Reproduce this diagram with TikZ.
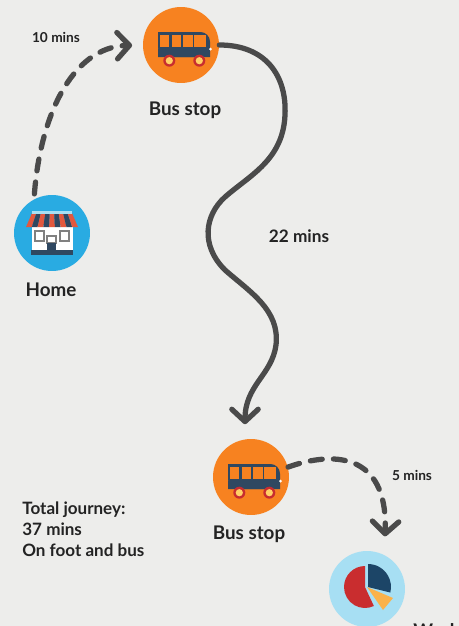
\documentclass[tikz,border=0pt]{standalone}
\usepackage{fontspec}
\setmainfont{Lato}
\usepackage{tikz}
\usetikzlibrary{arrows.meta,positioning}
\definecolor{pagebg}{RGB}{237,237,235}
\definecolor{roadgrey}{RGB}{74,74,74}
\definecolor{inkblack}{RGB}{35,35,35}
\definecolor{busorange}{RGB}{247,130,32}
\definecolor{busblue}{RGB}{47,72,97}
\definecolor{wheelred}{RGB}{200,45,47}
\definecolor{wheelyellow}{RGB}{255,209,102}
\definecolor{homeblue}{RGB}{41,171,226}
\definecolor{awnred}{RGB}{226,88,62}
\definecolor{workblue}{RGB}{167,223,243}
\definecolor{piered}{RGB}{201,45,47}
\definecolor{pieblue}{RGB}{28,69,103}
\definecolor{pieyellow}{RGB}{250,178,74}
\tikzset{
  stop/.style    ={circle, minimum size=1.52cm, inner sep=0pt},
  place/.style   ={font=\bfseries\fontsize{10.7}{12}\selectfont, text=inkblack, inner sep=0pt},
  mins/.style    ={font=\bfseries\fontsize{7.8}{9}\selectfont, text=inkblack, inner sep=0pt},
  road/.style    ={draw=roadgrey, line width=3pt, line cap=round, -{Straight Barb[length=7pt, width=15pt, round]}},
  walk/.style    ={road, dash pattern=on 6.8pt off 6.4pt},
  busicon/.pic   ={
    \fill[busblue, rounded corners=5.5pt] (-23,12) -- (-23,-13) -- (29,-13) -- (29,12) -- cycle;
    \fill[busblue] (-23,12) rectangle (29,4) (-23,-13) rectangle (10,0);
    \foreach \xa/\xb in {-21/-11.7,-9.3/0,2.3/11.7,13.3/25}
      \fill[busorange] (\xa,-10) rectangle (\xb,2.3);
    \fill[white] (29.5,4) circle[radius=1.5];
    \foreach \xa in {-11.7,18.3}{
      \fill[wheelred] (\xa,15.7) circle[radius=6];
      \fill[wheelyellow] (\xa,15.7) circle[radius=3.6];
    }
  },
  shopicon/.pic  ={
    \fill[white] (-20,-8) rectangle (21,18);
    \foreach \i/\c in {0/awnred,1/busblue,2/awnred,3/busblue,4/awnred,5/busblue,6/awnred,7/busblue,8/awnred}
      \fill[\c] ({-20+\i*40/9},-20) -- ({-20+(\i+1)*40/9},-20) -- ({-26+(\i+1)*52/9},-6) -- ({-26+\i*52/9},-6) -- cycle;
    \fill[workblue] (-20,-22) rectangle (20,-19);
    \draw[gray, line width=.7pt, fill=white] (-17,-2) rectangle (-8,8) (8,-2) rectangle (17,8);
    \draw[gray, line width=.7pt, fill=white] (-5,3) rectangle (4,10);
    \fill[busblue] (-5,10) rectangle (4,18);
    \fill[busblue] (-21,17) rectangle (21,22);
  },
  pieicon/.pic   ={
    \fill[piered] (-2,-2) -- (-2,-23) arc[start angle=-90, end angle=-295, radius=21] -- cycle;
    \fill[pieblue] (1,-2) -- (1,-25) arc[start angle=-90, end angle=14, radius=23] -- cycle;
    \fill[pieyellow] (0,-2) -- (26,9) -- (16,21) -- cycle;
  }
}

\begin{document}
\begin{tikzpicture}[x=.02cm, y=-.02cm]
  \useasboundingbox (0,0) rectangle (459,626);
  \clip (0,0) rectangle (459,626);
  \fill[pagebg] (0,0) rectangle (459,626);

  \node[stop, fill=homeblue]   (home) at (52,233)  {};
  \node[stop, fill=busorange]  (busA) at (181,45)  {};
  \node[stop, fill=busorange]  (busB) at (251,477) {};
  \node[stop, fill=workblue]   (work) at (367,589) {};
  \pic at (home) {shopicon};
  \pic at (busA) {busicon};
  \pic at (busB) {busicon};
  \pic at (work) {pieicon};

  \node[place] (homelbl)  at (51,290)  {Home};
  \node[place] (busAlbl)  at (185,110) {Bus stop};
  \node[place] (busBlbl)  at (249,534) {Bus stop};
  \node[place, anchor=north west] (worklbl) at (413,623.5) {Work};
  \node[mins]  (minsA)    at (56,37)   {10 mins};
  \node[mins, font=\bfseries\fontsize{9.8}{11}\selectfont] (minsB) at (299,236) {22 mins};
  \node[mins]  (minsC)    at (412,475) {5 mins};
  \node[place, font=\bfseries\fontsize{9.7}{12.2}\selectfont, anchor=north west, align=left] (total) at (22,501) {Total journey:\\37 mins\\On foot and bus};

  \draw[walk, shorten <=3pt, shorten >=6pt] (home.118) .. controls (40,120) and (70,47) .. (busA.west);
  \draw[road, shorten >=8.5pt] (busA.east) .. controls (265,45) and (287,75) .. (285,115)
    .. controls (283,160) and (250,175) .. (225,197)
    .. controls (205,215) and (200,245) .. (225,270)
    .. controls (250,292) and (280,310) .. (276,345)
    .. controls (272,375) and (245,385) .. (busB.99);
  \draw[walk, shorten >=10.5pt] (busB.15) .. controls (330,452) and (388,450) .. (work.63);
\end{tikzpicture}
\end{document}
